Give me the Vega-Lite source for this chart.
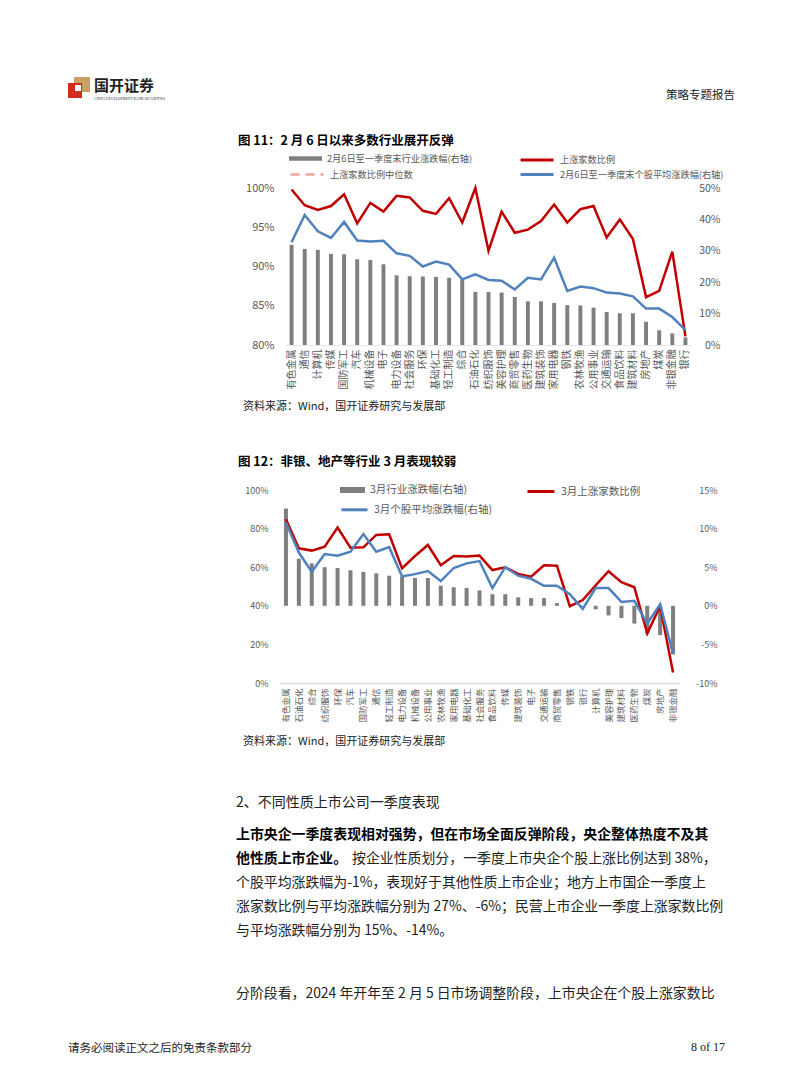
{
  "$schema": "https://vega.github.io/schema/vega-lite/v6.json",
  "width": 802,
  "height": 1087,
  "autosize": "none",
  "padding": 0,
  "background": "white",
  "config": {
    "view": {"stroke": null},
    "font": "Noto Sans CJK SC",
    "axis": {"grid": false, "ticks": false, "domain": false, "labelColor": "#595959", "labelFont": "Noto Sans CJK SC", "title": null},
    "legend": {"padding": 0, "labelColor": "#595959", "labelFont": "Noto Sans CJK SC", "labelLimit": 0, "labelOffset": 5, "title": null, "orient": "none"}
  },
  "datasets": {
    "c1": [
      {"ind": "有色金属", "bar": 31.9, "up": 99.8, "avg": 32.7},
      {"ind": "通信", "bar": 30.6, "up": 97.8, "avg": 41.4},
      {"ind": "计算机", "bar": 30.3, "up": 97.2, "avg": 36.2},
      {"ind": "传媒", "bar": 29.0, "up": 97.7, "avg": 34.1},
      {"ind": "国防军工", "bar": 28.9, "up": 99.2, "avg": 39.2},
      {"ind": "汽车", "bar": 27.3, "up": 95.5, "avg": 33.3},
      {"ind": "机械设备", "bar": 27.1, "up": 98.1, "avg": 33.0},
      {"ind": "电子", "bar": 25.7, "up": 97.0, "avg": 33.2},
      {"ind": "电力设备", "bar": 22.2, "up": 99.0, "avg": 29.2},
      {"ind": "社会服务", "bar": 21.9, "up": 98.8, "avg": 28.4},
      {"ind": "环保", "bar": 21.8, "up": 97.1, "avg": 25.0},
      {"ind": "基础化工", "bar": 21.7, "up": 96.7, "avg": 26.6},
      {"ind": "轻工制造", "bar": 21.4, "up": 98.7, "avg": 25.6},
      {"ind": "综合", "bar": 20.9, "up": 95.6, "avg": 20.9},
      {"ind": "石油石化", "bar": 16.9, "up": 100.0, "avg": 22.5},
      {"ind": "纺织服饰", "bar": 16.9, "up": 92.0, "avg": 20.7},
      {"ind": "美容护理", "bar": 16.7, "up": 97.0, "avg": 20.5},
      {"ind": "商贸零售", "bar": 15.3, "up": 94.3, "avg": 17.7},
      {"ind": "医药生物", "bar": 13.9, "up": 94.7, "avg": 21.4},
      {"ind": "建筑装饰", "bar": 13.9, "up": 95.8, "avg": 20.9},
      {"ind": "家用电器", "bar": 13.4, "up": 97.9, "avg": 27.8},
      {"ind": "钢铁", "bar": 12.7, "up": 95.6, "avg": 17.2},
      {"ind": "农林牧渔", "bar": 12.6, "up": 97.3, "avg": 18.6},
      {"ind": "公用事业", "bar": 11.9, "up": 97.7, "avg": 18.1},
      {"ind": "交通运输", "bar": 10.5, "up": 93.7, "avg": 16.7},
      {"ind": "食品饮料", "bar": 10.1, "up": 96.0, "avg": 16.4},
      {"ind": "建筑材料", "bar": 10.1, "up": 93.5, "avg": 15.5},
      {"ind": "房地产", "bar": 7.4, "up": 86.1, "avg": 11.6},
      {"ind": "煤炭", "bar": 4.7, "up": 86.9, "avg": 11.6},
      {"ind": "非银金融", "bar": 3.7, "up": 91.9, "avg": 8.9},
      {"ind": "银行", "bar": 2.4, "up": 81.1, "avg": 4.7}
    ],
    "c2": [
      {"ind": "有色金属", "bar": 12.6, "up": 84.9, "avg": 10.8},
      {"ind": "石油石化", "bar": 6.1, "up": 69.8, "avg": 6.9},
      {"ind": "综合", "bar": 5.5, "up": 68.6, "avg": 4.4},
      {"ind": "纺织服饰", "bar": 5.0, "up": 70.6, "avg": 6.7},
      {"ind": "环保", "bar": 4.9, "up": 80.5, "avg": 6.5},
      {"ind": "汽车", "bar": 4.6, "up": 70.1, "avg": 7.0},
      {"ind": "国防军工", "bar": 4.4, "up": 70.3, "avg": 9.3},
      {"ind": "通信", "bar": 4.2, "up": 76.7, "avg": 7.0},
      {"ind": "轻工制造", "bar": 3.9, "up": 77.1, "avg": 7.6},
      {"ind": "电力设备", "bar": 3.8, "up": 59.4, "avg": 3.8},
      {"ind": "机械设备", "bar": 3.6, "up": 65.8, "avg": 4.1},
      {"ind": "公用事业", "bar": 3.6, "up": 71.5, "avg": 4.5},
      {"ind": "农林牧渔", "bar": 2.6, "up": 61.0, "avg": 3.2},
      {"ind": "家用电器", "bar": 2.4, "up": 65.8, "avg": 4.9},
      {"ind": "基础化工", "bar": 2.3, "up": 65.5, "avg": 5.5},
      {"ind": "社会服务", "bar": 2.0, "up": 66.0, "avg": 5.8},
      {"ind": "食品饮料", "bar": 1.5, "up": 58.5, "avg": 2.3},
      {"ind": "传媒", "bar": 1.5, "up": 59.9, "avg": 5.0},
      {"ind": "建筑装饰", "bar": 1.1, "up": 56.5, "avg": 3.9},
      {"ind": "电子", "bar": 1.0, "up": 55.1, "avg": 3.5},
      {"ind": "交通运输", "bar": 1.0, "up": 61.0, "avg": 2.6},
      {"ind": "商贸零售", "bar": 0.35, "up": 60.8, "avg": 2.6},
      {"ind": "钢铁", "bar": 0.05, "up": 39.8, "avg": 1.5},
      {"ind": "银行", "bar": -0.05, "up": 43.0, "avg": -0.4},
      {"ind": "计算机", "bar": -0.45, "up": 50.6, "avg": 2.3},
      {"ind": "美容护理", "bar": -1.25, "up": 57.9, "avg": 2.3},
      {"ind": "建筑材料", "bar": -1.6, "up": 52.2, "avg": 0.5},
      {"ind": "医药生物", "bar": -2.3, "up": 49.6, "avg": 0.65},
      {"ind": "煤炭", "bar": -3.6, "up": 25.7, "avg": -2.3},
      {"ind": "房地产", "bar": -3.8, "up": 39.8, "avg": 0.2},
      {"ind": "非银金融", "bar": -6.3, "up": 5.4, "avg": -6.2}
    ]
  },
  "resolve": {"scale": {"x": "independent", "y": "independent", "fill": "independent", "stroke": "independent"}},
  "layer": [
    {
      "data": {"name": "c1"},
      "mark": {"type": "bar", "fill": "#7f7f7f"},
      "encoding": {
        "x": {"field": "ind", "type": "nominal", "sort": null,
              "scale": {"type": "band", "range": [285, 692], "paddingInner": 0.7, "paddingOuter": 0.35},
              "axis": {"orient": "bottom", "offset": -742, "labelAngle": -90, "labelFontSize": 10, "labelPadding": 4, "domain": true, "domainColor": "#e6e6e6", "labelLimit": 0}},
        "y": {"field": "bar", "type": "quantitative",
              "scale": {"domain": [0, 50], "range": [345, 188], "nice": false, "zero": true},
              "axis": {"orient": "right", "offset": -110, "values": [0, 10, 20, 30, 40, 50], "labelExpr": "datum.value + '%'", "labelFontSize": 10.5, "labelAlign": "right", "labelPadding": 28}},
        "fill": {"datum": "2月6日至一季度末行业涨跌幅(右轴)", "scale": {"range": ["#7f7f7f"]},
                 "legend": {"orient": "none", "legendX": 289, "legendY": 142, "symbolType": "M-1,-0.14H1V0.14H-1Z", "symbolSize": 1089, "symbolStrokeWidth": 0, "labelFontSize": 9.2}}
      }
    },
    {
      "data": {"name": "c1"},
      "transform": [{"filter": "false"}],
      "mark": {"type": "line", "strokeDash": [9, 6]},
      "encoding": {
        "x": {"field": "ind", "type": "nominal", "sort": null, "scale": {"type": "point", "range": [285, 692], "padding": 0.5}, "axis": null},
        "y": {"field": "up", "type": "quantitative", "scale": {"domain": [80, 100], "range": [345, 188]}, "axis": null},
        "stroke": {"datum": "上涨家数比例中位数", "scale": {"range": ["#F2A19C"]},
                   "legend": {"orient": "none", "legendX": 289, "legendY": 156.5, "symbolType": "stroke", "symbolSize": 1089, "symbolStrokeWidth": 2.5, "symbolDash": [9, 6], "labelFontSize": 9.2}}
      }
    },
    {
      "data": {"name": "c1"},
      "mark": {"type": "line", "strokeWidth": 2.5},
      "encoding": {
        "x": {"field": "ind", "type": "nominal", "sort": null, "scale": {"type": "point", "range": [285, 692], "padding": 0.5}, "axis": null},
        "y": {"field": "up", "type": "quantitative",
              "scale": {"domain": [80, 100], "range": [345, 188], "nice": false, "zero": false},
              "axis": {"orient": "left", "offset": -285, "values": [80, 85, 90, 95, 100], "labelExpr": "datum.value + '%'", "labelFontSize": 11, "labelPadding": 11}},
        "stroke": {"datum": "上涨家数比例", "scale": {"range": ["#C00000"]},
                   "legend": {"orient": "none", "legendX": 519, "legendY": 142, "symbolType": "stroke", "symbolSize": 1089, "symbolStrokeWidth": 3, "labelFontSize": 9.2}}
      }
    },
    {
      "data": {"name": "c1"},
      "mark": {"type": "line", "strokeWidth": 2.5},
      "encoding": {
        "x": {"field": "ind", "type": "nominal", "sort": null, "scale": {"type": "point", "range": [285, 692], "padding": 0.5}, "axis": null},
        "y": {"field": "avg", "type": "quantitative", "scale": {"domain": [0, 50], "range": [345, 188], "nice": false}, "axis": null},
        "stroke": {"datum": "2月6日至一季度末个股平均涨跌幅(右轴)", "scale": {"range": ["#4F81BD"]},
                   "legend": {"orient": "none", "legendX": 519, "legendY": 156.5, "symbolType": "stroke", "symbolSize": 1089, "symbolStrokeWidth": 3, "labelFontSize": 9.2}}
      }
    },
    {
      "data": {"name": "c2"},
      "mark": {"type": "bar", "fill": "#7f7f7f"},
      "encoding": {
        "x": {"field": "ind", "type": "nominal", "sort": null,
              "scale": {"type": "band", "range": [279.5, 679.5], "paddingInner": 0.69, "paddingOuter": 0.345},
              "axis": {"orient": "bottom", "offset": -404, "labelAngle": -90, "labelFontSize": 8.5, "labelPadding": 5, "domain": true, "domainColor": "#d9d9d9", "domainWidth": 1.5, "labelLimit": 0}},
        "y": {"field": "bar", "type": "quantitative",
              "scale": {"domain": [-10, 15], "range": [683, 490], "nice": false, "zero": true},
              "axis": {"orient": "right", "offset": -122, "values": [-10, -5, 0, 5, 10, 15], "labelExpr": "datum.value + '%'", "labelFontSize": 9, "labelAlign": "right", "labelPadding": 37}},
        "fill": {"datum": "3月行业涨跌幅(右轴)", "scale": {"range": ["#7f7f7f"]},
                 "legend": {"orient": "none", "legendX": 340, "legendY": 477.5, "symbolType": "M-1,-0.24H1V0.24H-1Z", "symbolSize": 625, "symbolStrokeWidth": 0, "labelFontSize": 10.5}}
      }
    },
    {
      "data": {"name": "c2"},
      "mark": {"type": "line", "strokeWidth": 2.5},
      "encoding": {
        "x": {"field": "ind", "type": "nominal", "sort": null, "scale": {"type": "point", "range": [279.5, 679.5], "padding": 0.5}, "axis": null},
        "y": {"field": "up", "type": "quantitative",
              "scale": {"domain": [0, 100], "range": [683, 490], "nice": false},
              "axis": {"orient": "left", "offset": -280, "values": [0, 20, 40, 60, 80, 100], "labelExpr": "datum.value + '%'", "labelFontSize": 9, "labelPadding": 12}},
        "stroke": {"datum": "3月上涨家数比例", "scale": {"range": ["#C00000"]},
                   "legend": {"orient": "none", "legendX": 526, "legendY": 476.5, "symbolType": "stroke", "symbolSize": 729, "symbolStrokeWidth": 3, "labelFontSize": 10.5}}
      }
    },
    {
      "data": {"name": "c2"},
      "mark": {"type": "line", "strokeWidth": 2.5},
      "encoding": {
        "x": {"field": "ind", "type": "nominal", "sort": null, "scale": {"type": "point", "range": [279.5, 679.5], "padding": 0.5}, "axis": null},
        "y": {"field": "avg", "type": "quantitative", "scale": {"domain": [-10, 15], "range": [683, 490], "nice": false}, "axis": null},
        "stroke": {"datum": "3月个股平均涨跌幅(右轴)", "scale": {"range": ["#4F81BD"]},
                   "legend": {"orient": "none", "legendX": 340, "legendY": 495.3, "symbolType": "stroke", "symbolSize": 676, "symbolStrokeWidth": 3, "labelFontSize": 10.5}}
      }
    },
    {"data": {"values": [{}]}, "mark": {"type": "rect", "x": 74, "x2": 90, "y": 77, "y2": 92, "fill": "#C9A063"}, "encoding": {}},
    {"data": {"values": [{}]}, "mark": {"type": "rect", "x": 68, "x2": 82, "y": 83, "y2": 98, "fill": "#D52B1E"}, "encoding": {}},
    {"data": {"values": [{}]}, "mark": {"type": "rect", "x": 75, "x2": 81, "y": 85, "y2": 91, "fill": "#ffffff"}, "encoding": {}},
    {"data": {"values": [{}]}, "mark": {"type": "text", "text": "国开证券", "x": 94, "y": 86, "align": "left", "baseline": "middle", "fontSize": 15, "fontWeight": "bold", "color": "#222222"}, "encoding": {}},
    {"data": {"values": [{}]}, "mark": {"type": "text", "text": "CHINA DEVELOPMENT BANK SECURITIES", "x": 94, "y": 99, "align": "left", "baseline": "middle", "fontSize": 3.6, "font": "Liberation Serif", "color": "#333333"}, "encoding": {}},
    {"data": {"values": [{}]}, "mark": {"type": "text", "text": "策略专题报告", "x": 735, "y": 96, "align": "right", "baseline": "middle", "fontSize": 11.5, "color": "#222222"}, "encoding": {}},
    {"data": {"values": [{}]}, "mark": {"type": "rule", "x": 65, "x2": 740, "y": 104, "stroke": "#111111", "strokeWidth": 1.3}, "encoding": {}},
    {"data": {"values": [{}]}, "mark": {"type": "text", "text": "图 11：2 月 6 日以来多数行业展开反弹", "x": 238, "y": 141, "align": "left", "baseline": "middle", "fontSize": 12.5, "fontWeight": "bold", "color": "#000000"}, "encoding": {}},
    {"data": {"values": [{}]}, "mark": {"type": "rule", "x": 238, "x2": 740, "y": 150, "stroke": "#E3A1A8", "strokeWidth": 1.5}, "encoding": {}},
    {"data": {"values": [{}]}, "mark": {"type": "rule", "x": 238, "x2": 740, "y": 396, "stroke": "#E3A1A8", "strokeWidth": 1.5}, "encoding": {}},
    {"data": {"values": [{}]}, "mark": {"type": "text", "text": "资料来源：Wind，国开证券研究与发展部", "x": 243, "y": 407, "align": "left", "baseline": "middle", "fontSize": 11, "color": "#222222"}, "encoding": {}},
    {"data": {"values": [{}]}, "mark": {"type": "text", "text": "图 12：非银、地产等行业 3 月表现较弱", "x": 238, "y": 462, "align": "left", "baseline": "middle", "fontSize": 12.5, "fontWeight": "bold", "color": "#000000"}, "encoding": {}},
    {"data": {"values": [{}]}, "mark": {"type": "rule", "x": 238, "x2": 740, "y": 471, "stroke": "#E3A1A8", "strokeWidth": 1.5}, "encoding": {}},
    {"data": {"values": [{}]}, "mark": {"type": "rule", "x": 238, "x2": 740, "y": 731, "stroke": "#E3A1A8", "strokeWidth": 1.5}, "encoding": {}},
    {"data": {"values": [{}]}, "mark": {"type": "text", "text": "资料来源：Wind，国开证券研究与发展部", "x": 243, "y": 742, "align": "left", "baseline": "middle", "fontSize": 11, "color": "#222222"}, "encoding": {}},
    {"data": {"values": [{}]}, "mark": {"type": "text", "text": "2、不同性质上市公司一季度表现", "x": 236, "y": 803, "align": "left", "baseline": "middle", "fontSize": 14, "color": "#222222"}, "encoding": {}},
    {"data": {"values": [{}]}, "mark": {"type": "text", "text": "上市央企一季度表现相对强势，但在市场全面反弹阶段，央企整体热度不及其", "x": 236, "y": 835, "align": "left", "baseline": "middle", "fontSize": 13.9, "fontWeight": "bold", "color": "#000000"}, "encoding": {}},
    {"data": {"values": [{}]}, "mark": {"type": "text", "text": "他性质上市企业。", "x": 236, "y": 859, "align": "left", "baseline": "middle", "fontSize": 13.9, "fontWeight": "bold", "color": "#000000"}, "encoding": {}},
    {"data": {"values": [{}]}, "mark": {"type": "text", "text": "按企业性质划分，一季度上市央企个股上涨比例达到 38%，", "x": 352, "y": 859, "align": "left", "baseline": "middle", "fontSize": 13.9, "color": "#222222"}, "encoding": {}},
    {"data": {"values": [{}]}, "mark": {"type": "text", "text": "个股平均涨跌幅为-1%，表现好于其他性质上市企业；地方上市国企一季度上", "x": 236, "y": 883, "align": "left", "baseline": "middle", "fontSize": 13.9, "color": "#222222"}, "encoding": {}},
    {"data": {"values": [{}]}, "mark": {"type": "text", "text": "涨家数比例与平均涨跌幅分别为 27%、-6%；民营上市企业一季度上涨家数比例", "x": 236, "y": 907, "align": "left", "baseline": "middle", "fontSize": 13.9, "color": "#222222"}, "encoding": {}},
    {"data": {"values": [{}]}, "mark": {"type": "text", "text": "与平均涨跌幅分别为 15%、-14%。", "x": 236, "y": 931, "align": "left", "baseline": "middle", "fontSize": 13.9, "color": "#222222"}, "encoding": {}},
    {"data": {"values": [{}]}, "mark": {"type": "text", "text": "分阶段看，2024 年开年至 2 月 5 日市场调整阶段，上市央企在个股上涨家数比", "x": 236, "y": 994, "align": "left", "baseline": "middle", "fontSize": 13.9, "color": "#222222"}, "encoding": {}},
    {"data": {"values": [{}]}, "mark": {"type": "rule", "x": 65, "x2": 737, "y": 1037, "stroke": "#111111", "strokeWidth": 1.5}, "encoding": {}},
    {"data": {"values": [{}]}, "mark": {"type": "text", "text": "请务必阅读正文之后的免责条款部分", "x": 68, "y": 1049, "align": "left", "baseline": "middle", "fontSize": 11.5, "color": "#222222"}, "encoding": {}},
    {"data": {"values": [{}]}, "mark": {"type": "text", "text": "8 of 17", "x": 725, "y": 1047, "align": "right", "baseline": "middle", "fontSize": 12, "font": "Liberation Serif", "color": "#222222"}, "encoding": {}}
  ]
}
